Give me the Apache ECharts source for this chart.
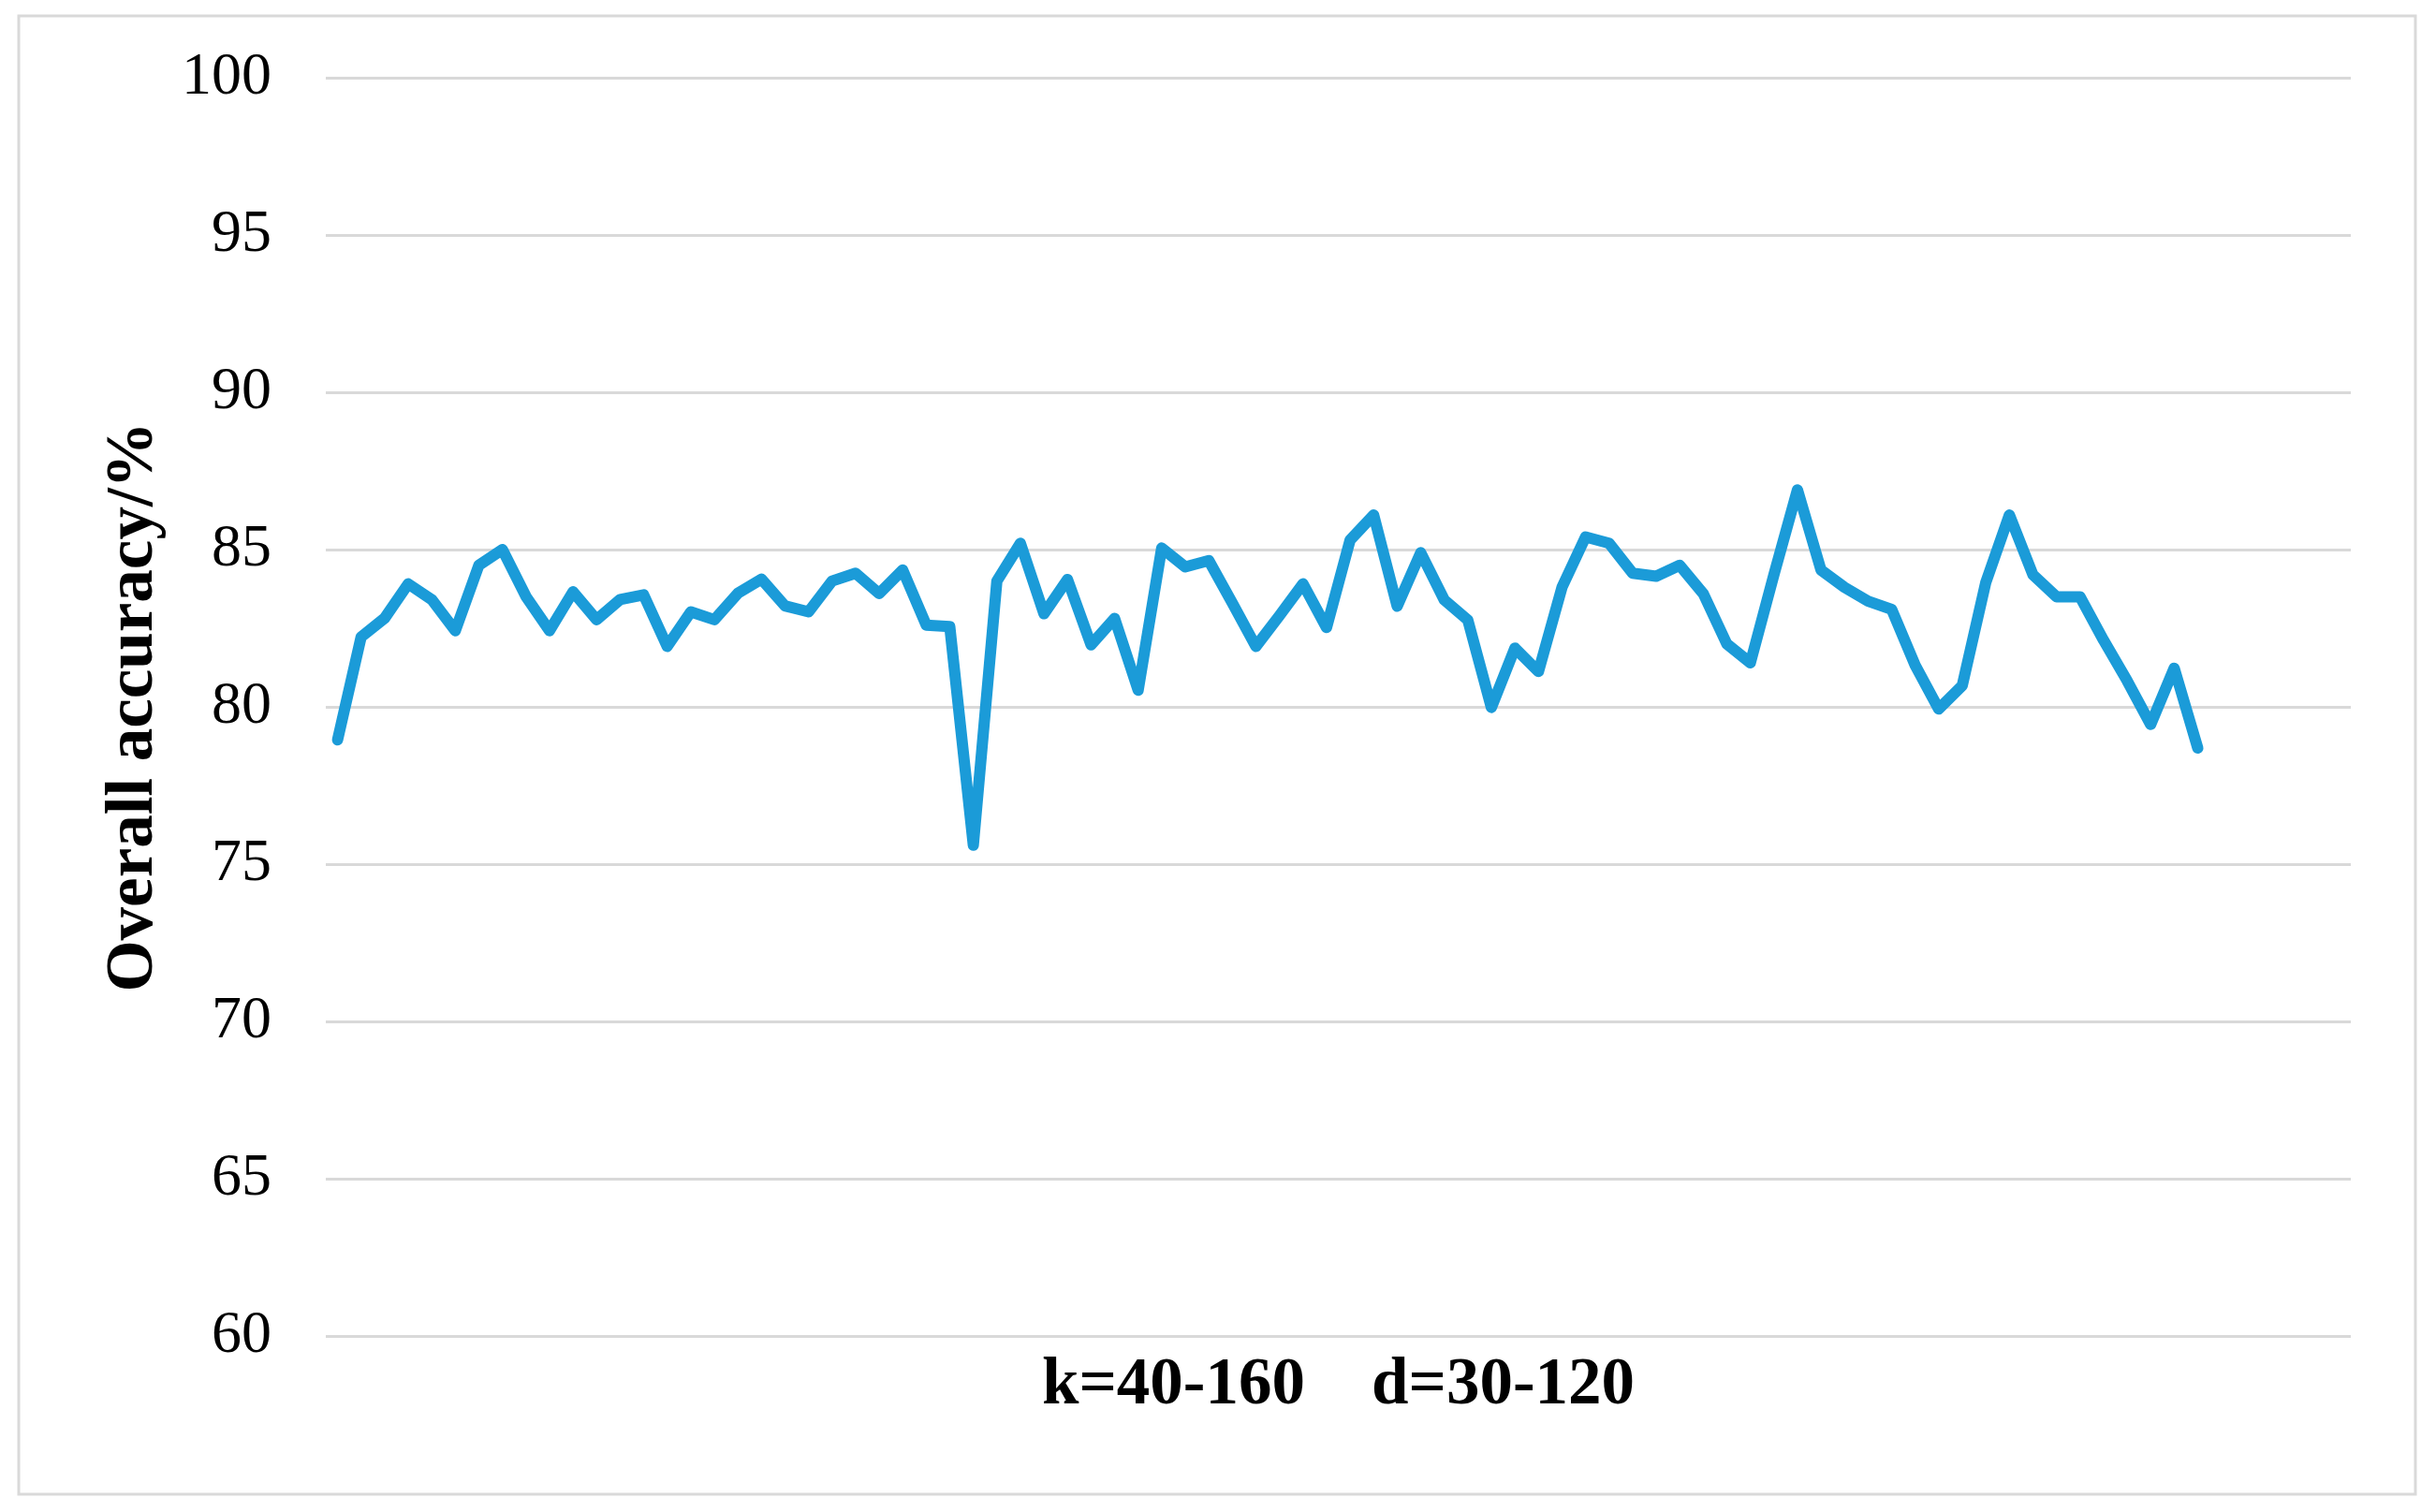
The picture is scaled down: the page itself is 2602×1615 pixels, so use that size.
<!DOCTYPE html>
<html>
<head>
<meta charset="utf-8">
<script src="https://cdn.jsdelivr.net/npm/echarts@6/dist/echarts.min.js"></script>
<style>
html,body{margin:0;padding:0;background:#fff;}
#chart{width:2602px;height:1615px;}
</style>
</head>
<body>
<div id="chart"></div>
<script>
// Category slots of the horizontal axis (86 slots, first 80 filled)
const categories = [
  '1','2','3','4','5','6','7','8','9','10',
  '11','12','13','14','15','16','17','18','19','20',
  '21','22','23','24','25','26','27','28','29','30',
  '31','32','33','34','35','36','37','38','39','40',
  '41','42','43','44','45','46','47','48','49','50',
  '51','52','53','54','55','56','57','58','59','60',
  '61','62','63','64','65','66','67','68','69','70',
  '71','72','73','74','75','76','77','78','79','80',
  '81','82','83','84','85','86'
];
// Overall accuracy (%)
const accuracy = [
  78.95, 82.22, 82.82, 83.91, 83.41, 82.42, 84.50, 85.00, 83.51, 82.42,
  83.66, 82.77, 83.41, 83.56, 81.92, 83.02, 82.77, 83.61, 84.06, 83.21,
  83.02, 84.00, 84.25, 83.60, 84.35, 82.60, 82.55, 75.60, 84.00, 85.20,
  82.96, 84.05, 81.97, 82.81, 80.53, 85.05, 84.45, 84.65, 83.30, 81.92,
  82.90, 83.91, 82.52, 85.30, 86.10, 83.20, 84.90, 83.40, 82.76, 79.98,
  81.87, 81.12, 83.80, 85.40, 85.20, 84.25, 84.15, 84.50, 83.60, 82.00,
  81.40, 84.20, 86.90, 84.35, 83.80, 83.36, 83.10, 81.32, 79.93, 80.68,
  83.96, 86.10, 84.20, 83.50, 83.50, 82.12, 80.83, 79.44, 81.23, 78.69
];
const yTicks = { min: 60, max: 100, interval: 5 };
const xName = 'k=40-160    d=30-120';
const yName = 'Overall accuracy/%';

const chart = echarts.init(document.getElementById('chart'), null, { renderer: 'canvas' });
chart.setOption({
  backgroundColor: '#ffffff',
  animation: false,
  graphic: [{
    type: 'rect',
    shape: { x: 20, y: 17, width: 2560, height: 1579 },
    style: { fill: 'none', stroke: '#d9d9d9', lineWidth: 3 }
  }],
  grid: { left: 348, right: 91, top: 83, bottom: 188 },
  xAxis: {
    type: 'category',
    data: categories,
    boundaryGap: true,
    axisLine: { show: false },
    axisTick: { show: false },
    axisLabel: { show: false },
    splitLine: { show: false },
    name: xName,
    nameLocation: 'middle',
    nameGap: 18,
    nameTextStyle: {
      fontFamily: 'Liberation Serif',
      fontWeight: 'bold',
      fontSize: 71,
      color: '#000'
    }
  },
  yAxis: {
    type: 'value',
    min: yTicks.min,
    max: yTicks.max,
    interval: yTicks.interval,
    axisLine: { show: false },
    axisTick: { show: false },
    axisLabel: {
      fontFamily: 'Liberation Serif',
      fontSize: 64,
      color: '#000',
      margin: 58
    },
    splitLine: { show: true, lineStyle: { color: '#d9d9d9', width: 3 } },
    name: yName,
    nameLocation: 'middle',
    nameRotate: 90,
    nameGap: 169,
    nameTextStyle: {
      fontFamily: 'Liberation Serif',
      fontWeight: 'bold',
      fontSize: 71,
      color: '#000'
    }
  },
  series: [{
    type: 'line',
    data: accuracy,
    showSymbol: false,
    symbol: 'none',
    smooth: false,
    lineStyle: { color: '#1b9bd8', width: 12, cap: 'round', join: 'round' }
  }]
});
</script>
</body>
</html>
